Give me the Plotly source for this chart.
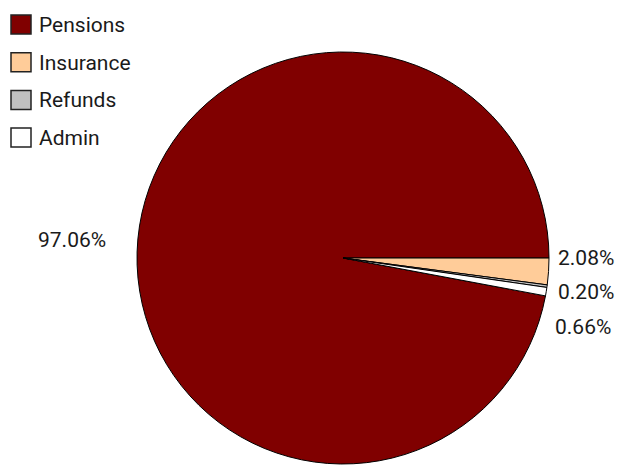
import plotly.graph_objects as go

labels = ["Pensions", "Insurance", "Refunds", "Admin"]
values = [97.06, 2.08, 0.20, 0.66]
colors = ["#800000", "#FFCC99", "#C0C0C0", "#FFFFFF"]
pct_text = ["97.06%", "2.08%", "0.20%", "0.66%"]

FONT = "Roboto, Liberation Sans, sans-serif"

W, H = 624, 468
cx, cy, r = 343, 258, 206

fig = go.Figure(go.Pie(
    labels=labels,
    values=values,
    sort=False,
    direction="clockwise",
    rotation=100.6,
    marker=dict(colors=colors, line=dict(color="#000000", width=1)),
    textinfo="none",
    domain=dict(x=[(cx - r) / W, (cx + r) / W], y=[(H - cy - r) / H, (H - cy + r) / H]),
    showlegend=False,
    hoverinfo="label+percent",
))

# percentage labels (placed like the reference, outside the pie); right-aligned
label_pos = [(108, 240), (616, 258), (616, 292), (613, 327)]
for txt, (x, y) in zip(pct_text, label_pos):
    fig.add_annotation(x=x / W, y=1 - y / H, xref="paper", yref="paper",
                       text=txt, showarrow=False, xanchor="right", yanchor="middle",
                       font=dict(family=FONT, size=21, color="#1a1a1a"))

# legend drawn as squares + text
for i, (lab, col) in enumerate(zip(labels, colors)):
    y0 = 15 + i * 37.7
    fig.add_shape(type="rect", xref="paper", yref="paper",
                  x0=11 / W, x1=31 / W, y0=1 - y0 / H, y1=1 - (y0 + 19) / H,
                  fillcolor=col, line=dict(color="#222222", width=1.5))
    fig.add_annotation(x=37 / W, y=1 - (y0 + 10) / H, xref="paper", yref="paper",
                       text=lab, showarrow=False, xanchor="left", yanchor="middle",
                       font=dict(family=FONT, size=21, color="#1a1a1a"))

fig.update_layout(
    width=W, height=H,
    margin=dict(l=0, r=0, t=0, b=0),
    paper_bgcolor="white",
    plot_bgcolor="white",
    font=dict(family=FONT, color="#1a1a1a"),
)

fig.write_html("out.html", config={"displayModeBar": False},
               post_script="document.body.style.margin='0';")
